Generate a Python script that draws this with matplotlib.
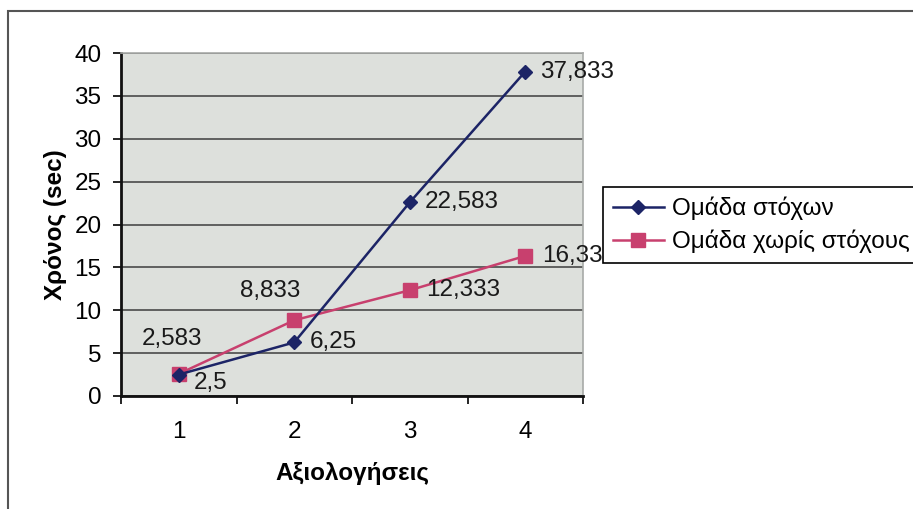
import matplotlib.pyplot as plt
from matplotlib.patches import Rectangle

plt.rcParams['font.family'] = ['Liberation Sans', 'DejaVu Sans']

categories = [1, 2, 3, 4]
goals = [2.5, 6.25, 22.583, 37.833]
no_goals = [2.583, 8.833, 12.333, 16.333]
goals_labels = ["2,5", "6,25", "22,583", "37,833"]
no_goals_labels = ["2,583", "8,833", "12,333", "16,33"]
series_names = ["Ομάδα στόχων", "Ομάδα χωρίς στόχους"]

W, H = 913, 509
fig = plt.figure(figsize=(W / 100, H / 100), dpi=100)
fig.patch.set_facecolor('white')

# outer chart frame
fig.patches.append(Rectangle((8 / W, -0.05), 1.0, (H - 11) / H + 0.05,
                             transform=fig.transFigure, fill=False,
                             edgecolor='#555555', lw=1.5))

ax = fig.add_axes([121 / W, (H - 396) / H, 462 / W, 343 / H])
ax.set_facecolor('#dde0dc')

navy = '#1c2466'
pink = '#c8406e'

l1, = ax.plot(categories, goals, color=navy, lw=1.8, marker='D', markersize=7,
              label=series_names[0], zorder=4)
l2, = ax.plot(categories, no_goals, color=pink, lw=1.8, marker='s', markersize=10.5,
              label=series_names[1], zorder=3)

fs = 17.5
# data labels (offsets in points)
goal_offsets = [(11, -6), (11, 0), (11, 0), (11, 0)]
for x, y, t, off in zip(categories, goals, goals_labels, goal_offsets):
    ax.annotate(t, (x, y), xytext=off, textcoords='offset points',
                ha='left', va='center', fontsize=fs, color='#1a1a1a', zorder=6)
ng_offsets = [(-5, 25), (-17, 21), (12, 0), (12, 0)]
ng_ha = ['center', 'center', 'left', 'left']
for x, y, t, off, ha in zip(categories, no_goals, no_goals_labels, ng_offsets, ng_ha):
    ax.annotate(t, (x, y), xytext=off, textcoords='offset points',
                ha=ha, va='center', fontsize=fs, color='#1a1a1a', zorder=6)

ax.set_xlim(0.5, 4.5)
ax.set_ylim(0, 40)
ax.set_yticks(range(0, 41, 5))
ax.set_xticks(categories)
ax.set_xticks([0.5, 1.5, 2.5, 3.5, 4.5], minor=True)
ax.tick_params(axis='x', which='major', length=0, pad=18, labelsize=fs)
ax.tick_params(axis='x', which='minor', length=6, direction='out', width=1.2)
ax.tick_params(axis='y', length=6, direction='out', width=1.2, pad=8, labelsize=fs)
ax.yaxis.grid(True, color='#4a4a4a', lw=1.2)
ax.set_axisbelow(True)

for side in ['left', 'bottom']:
    ax.spines[side].set_color('#111111')
    ax.spines[side].set_linewidth(2)
for side in ['top', 'right']:
    ax.spines[side].set_color('#a8aaa8')
    ax.spines[side].set_linewidth(1.2)

ax.set_ylabel("Χρόνος (sec)", fontsize=fs, fontweight='bold', labelpad=5)
ax.set_xlabel("Αξιολογήσεις", fontsize=fs, fontweight='bold', labelpad=14)

leg = fig.legend(handles=[l1, l2], loc='upper left',
                 bbox_to_anchor=(603 / W, (H - 187) / H), fontsize=fs,
                 frameon=True, fancybox=False, framealpha=1, edgecolor='black',
                 handlelength=2.1, handletextpad=0.35, borderpad=0.4,
                 labelspacing=0.4, borderaxespad=0)
leg.get_frame().set_linewidth(1.2)
leg.set_zorder(10)

fig.savefig('out.png', dpi=100)
